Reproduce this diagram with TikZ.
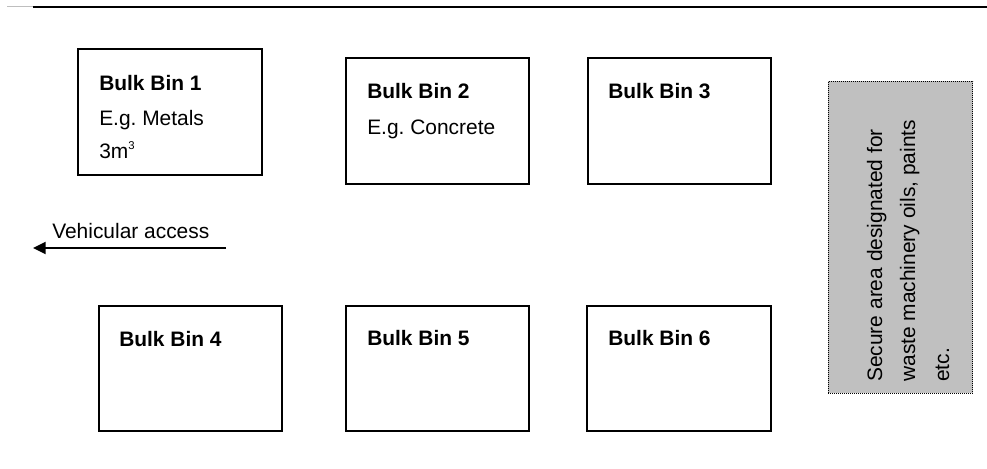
\documentclass[tikz,border=0pt]{standalone}
\usepackage{fontspec}
\setmainfont{Liberation Sans}
\usetikzlibrary{arrows.meta}

\tikzset{
  bin/.style={draw, line width=1.4pt, inner sep=0pt, minimum width=137.5pt, minimum height=94pt},
  lbl/.style={anchor=base west, inner sep=0pt, font=\fontsize{15.7}{25}\selectfont},
  binname/.style={lbl, font=\fontsize{15.7}{25}\selectfont\bfseries},
  secure/.style={draw, fill={rgb,255:red,192;green,192;blue,192}, line width=0.75pt,
    dash pattern=on 0.75pt off 0.75pt, inner sep=0pt, minimum width=108.5pt, minimum height=234pt},
}

\begin{document}
\begin{tikzpicture}[x=0.75pt,y=0.75pt,yscale=-1,xscale=1]
\useasboundingbox (0,0) rectangle (987,468);

% rule along the top
\draw [color={rgb,255:red,190;green,190;blue,190}, line width=0.6pt] (7,6) -- (33,6) ;
\draw [line width=1.6pt] (33,7) -- (987,7) ;

% bins
\node [bin] (bin1) at (170,112) {};
\node [bin] (bin2) at (437.5,121) {};
\node [bin] (bin3) at (679.5,121) {};
\node [bin] (bin4) at (190.5,368.5) {};
\node [bin] (bin5) at (437.5,368.5) {};
\node [bin] (bin6) at (679,368.5) {};

\node [binname] (bin1name) at (99,90) {Bulk Bin 1};
\node [lbl] (bin1kind) at (99,125) {E.g.\ Metals};
\node [lbl] (bin1size) at (99,158) {3m\raisebox{6.5pt}{\fontsize{8.5}{9}\selectfont 3}};
\node [binname] (bin2name) at (367,98) {Bulk Bin 2};
\node [lbl] (bin2kind) at (367,134) {E.g.\ Concrete};
\node [binname] (bin3name) at (608,98) {Bulk Bin 3};
\node [binname] (bin4name) at (119,346) {Bulk Bin 4};
\node [binname] (bin5name) at (367,345) {Bulk Bin 5};
\node [binname] (bin6name) at (608,345) {Bulk Bin 6};

% vehicular access
\node [lbl] (access) at (52,238) {Vehicular access};
\coordinate (accfrom) at (226,248);
\coordinate (accto) at (33,248);
\draw [line width=1.4pt, -{Triangle[length=9.5pt, width=9pt]}] (accfrom) -- (accto) ;

% secure area
\node [secure] (store) at (900.5,237) {};
\node [lbl, rotate=90] (store1) at (882,382) {Secure area designated for};
\node [lbl, rotate=90] (store2) at (915,382) {waste machinery oils, paints};
\node [lbl, rotate=90] (store3) at (949,382) {etc.};

\end{tikzpicture}
\end{document}
